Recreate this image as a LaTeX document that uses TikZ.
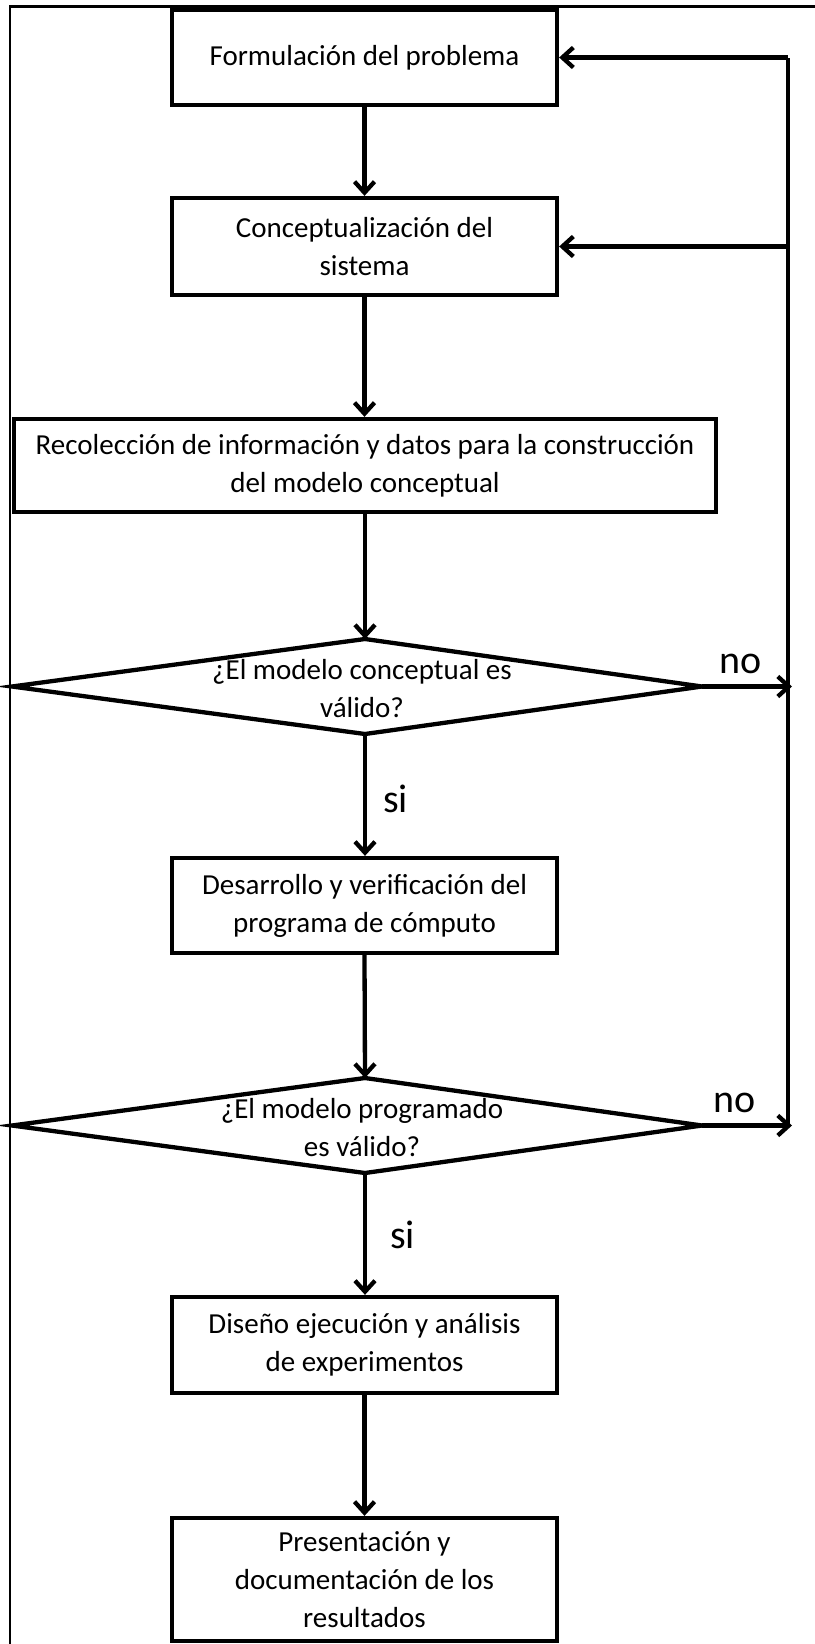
\documentclass[tikz,border=0pt]{standalone}
\usepackage{fontspec}
\setmainfont{Carlito}
\usetikzlibrary{arrows.meta,calc}
\begin{document}
\begin{tikzpicture}[x=1pt,y=-1pt,
  box/.style={draw, line width=4.3pt, minimum width=385pt, align=center, inner sep=0pt, font=\fontsize{29}{38}\selectfont},
  txt/.style={align=center, inner sep=0pt, font=\fontsize{29}{38}\selectfont},
  lbl/.style={inner sep=0pt, anchor=base west, font=\fontsize{40}{48}\selectfont},
  conn/.style={line width=4.3pt, -{Straight Barb[length=11pt,width=20pt]}},
  plain/.style={line width=4.3pt, line join=miter},
  frameline/.style={line width=2.2pt}]
\useasboundingbox (0,0) rectangle (814,1644);
% outer frame
\draw[frameline] (10,1650) -- (10,6.5) -- (820,6.5);
% boxes
\node[box, minimum height=95pt] (b1) at (364.5,57.5) {Formulación del problema};
\node[box, minimum height=97pt] (b2) at (364.5,246.5) {Conceptualización del\\sistema};
\node[box, minimum width=702pt, minimum height=93pt] (b3) at (365,465.5) {Recolección de información y datos para la construcción\\del modelo conceptual};
\node[box, minimum height=95pt] (b4) at (364.5,905.5) {Desarrollo y verificación del\\programa de cómputo};
\node[box, minimum height=96pt] (b5) at (364.5,1345) {Diseño ejecución y análisis\\de experimentos};
\node[box, minimum height=123pt] (b6) at (364.5,1579.5) {Presentación y\\documentación de los\\resultados};
% diamonds
\coordinate (d1t) at (365,639);
\coordinate (d1r) at (702,686.5);
\coordinate (d1b) at (365,734);
\coordinate (d1l) at (12,686.5);
\draw[plain] (d1t) -- (d1r) -- (d1b) -- (d1l) -- cycle;
\node[txt] (d1) at (362,689) {¿El modelo conceptual es\\válido?};
\coordinate (d2t) at (365,1078);
\coordinate (d2r) at (702,1125.5);
\coordinate (d2b) at (365,1173);
\coordinate (d2l) at (12,1125.5);
\draw[plain] (d2t) -- (d2r) -- (d2b) -- (d2l) -- cycle;
\node[txt] (d2) at (362,1128) {¿El modelo programado\\es válido?};
% feedback line
\coordinate (rt) at (788,57.5);
\coordinate (rb) at (788,1125.5);
% main flow
\draw[conn] (b1.south) -- (b2.north);
\draw[conn] (b2.south) -- (b2.south |- b3.north);
\draw[conn] (b3.south) -- (d1t);
\draw[conn] (d1b) -- (d1b |- b4.north);
\draw[conn] (b4.south) -- (d2t);
\draw[conn] (d2b) -- (d2b |- b5.north);
\draw[conn] (b5.south) -- (b6.north);
% labels
\node[lbl] (si1) at (383,812) {si};
\node[lbl] (si2) at (390,1248) {si};
\node[lbl] (no1) at (719,673) {no};
\node[lbl] (no2) at (713,1112) {no};
% no-branches
\draw[plain] (rb) -- (rt);
\draw[conn] (rt) -- (b1.east);
\draw[conn] (b2.east -| rt) -- (b2.east);
\draw[conn] (d1r) -- ($(d1r -| rt)+(4,0)$);
\draw[conn] (d2r) -- ($(d2r -| rt)+(4,0)$);
\end{tikzpicture}
\end{document}
